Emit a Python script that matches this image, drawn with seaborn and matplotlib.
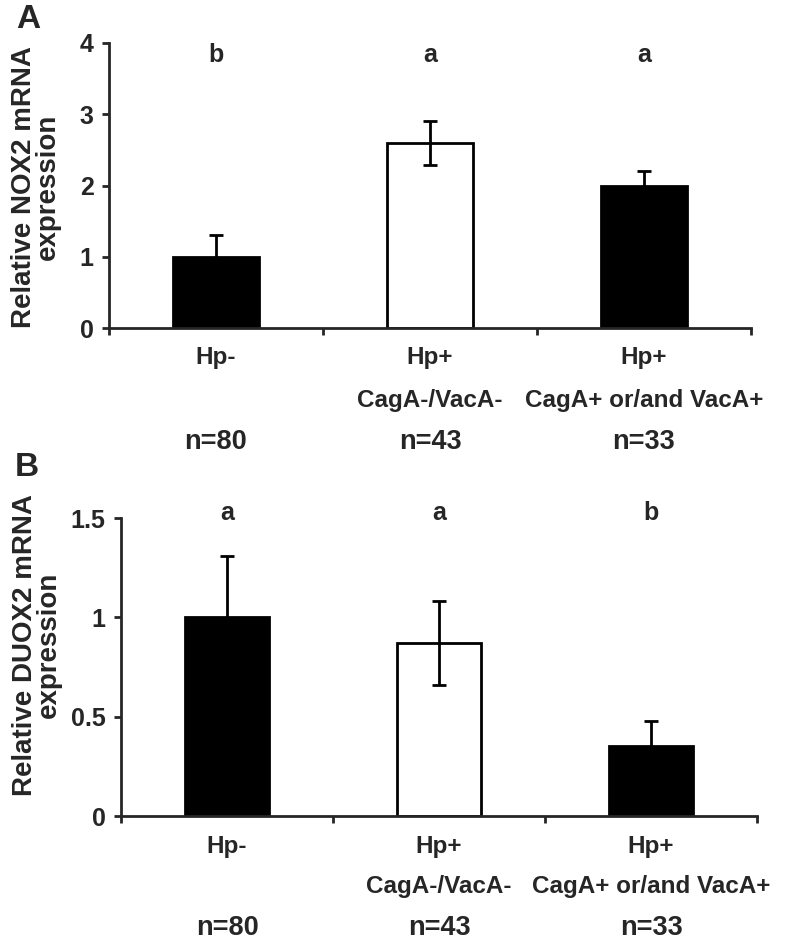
import matplotlib
matplotlib.use("Agg")
import matplotlib.pyplot as plt
import seaborn as sns
import numpy as np
import pandas as pd

# ---- data ----
categories = ["Hp-", "Hp+ CagA-/VacA-", "Hp+ CagA+ or/and VacA+"]
label_line1 = ["Hp-", "Hp+", "Hp+"]
label_line2 = ["", "CagA-/VacA-", "CagA+ or/and VacA+"]
n_labels = ["n=80", "n=43", "n=33"]
bar_colors = ["black", "white", "black"]

nox2_values = [1.00, 2.60, 1.99]
nox2_errors = [0.31, 0.31, 0.22]
nox2_letters = ["b", "a", "a"]
nox2_ticks = [0, 1, 2, 3, 4]
nox2_ticklabels = ["0", "1", "2", "3", "4"]

duox2_values = [1.00, 0.87, 0.35]
duox2_errors = [0.31, 0.21, 0.13]
duox2_letters = ["a", "a", "b"]
duox2_ticks = [0, 0.5, 1, 1.5]
duox2_ticklabels = ["0", "0.5", "1", "1.5"]

sns.set_style("ticks")
plt.rcParams["font.family"] = ["Liberation Sans", "DejaVu Sans"]
plt.rcParams["font.weight"] = "bold"

W, H = 786, 948
fig = plt.figure(figsize=(W / 100, H / 100), dpi=100)


def px_axes(l, r, t, b):
    return fig.add_axes([l / W, 1 - b / H, (r - l) / W, (b - t) / H])


def draw_panel(ax, values, errors, letters, ticks, ticklabels, ymax,
               row_fracs, letter_frac, tick_fs):
    df = pd.DataFrame({"group": categories, "value": values})
    sns.barplot(data=df, x="group", y="value", hue="group",
                palette=dict(zip(categories, bar_colors)),
                edgecolor="black", linewidth=2.0, width=0.4,
                legend=False, ax=ax, zorder=2)
    xs = np.arange(len(values))
    ax.errorbar(xs, values, yerr=errors, fmt="none", ecolor="black",
                elinewidth=2.0, capsize=5, capthick=2.0, zorder=3)
    ax.set_xlim(-0.5, len(values) - 0.5)
    ax.set_ylim(0, ymax)
    ax.set_yticks(ticks)
    ax.set_yticklabels(ticklabels, fontsize=tick_fs, fontweight="bold")
    ax.set_xticks(np.arange(len(values) + 1) - 0.5)
    ax.set_xticklabels([])
    ax.set_xlabel("")
    ax.set_ylabel("")
    for s in ["top", "right"]:
        ax.spines[s].set_visible(False)
    for s in ["left", "bottom"]:
        ax.spines[s].set_linewidth(2.0)
    ax.tick_params(axis="y", direction="out", length=5, width=2.0, pad=6)
    ax.tick_params(axis="x", direction="out", length=5, width=2.0)
    trans = ax.get_xaxis_transform()
    for i in range(len(values)):
        ax.text(xs[i], letter_frac, letters[i], transform=trans,
                ha="center", va="center", fontsize=18, fontweight="bold",
                clip_on=False)
        ax.text(xs[i], row_fracs[0], label_line1[i], transform=trans,
                ha="center", va="center", fontsize=17.5, fontweight="bold")
        if label_line2[i]:
            ax.text(xs[i], row_fracs[1], label_line2[i], transform=trans,
                    ha="center", va="center", fontsize=17.5, fontweight="bold")
        ax.text(xs[i], row_fracs[2], n_labels[i], transform=trans,
                ha="center", va="center", fontsize=19.5, fontweight="bold")


axA = px_axes(109, 751, 43, 328)
draw_panel(axA, nox2_values, nox2_errors, nox2_letters, nox2_ticks,
           nox2_ticklabels, 4, (-0.105, -0.253, -0.400), 0.958, 18)

axB = px_axes(121, 757, 518, 816)
draw_panel(axB, duox2_values, duox2_errors, duox2_letters, duox2_ticks,
           duox2_ticklabels, 1.5, (-0.104, -0.238, -0.376), 1.017, 18)

fig.text(36 / W, 1 - 187 / H, "Relative NOX2 mRNA\nexpression", rotation=90,
         ha="center", va="center", fontsize=20, fontweight="bold",
         linespacing=0.9, multialignment="center")
fig.text(37 / W, 1 - 645 / H, "Relative DUOX2 mRNA\nexpression", rotation=90,
         ha="center", va="center", fontsize=20, fontweight="bold",
         linespacing=0.9, multialignment="center")

fig.text(28 / W, 1 - 19 / H, "A", ha="center", va="center",
         fontsize=24, fontweight="bold")
fig.text(27 / W, 1 - 467 / H, "B", ha="center", va="center",
         fontsize=24, fontweight="bold")

fig.savefig("out.png", dpi=100, facecolor="white")
